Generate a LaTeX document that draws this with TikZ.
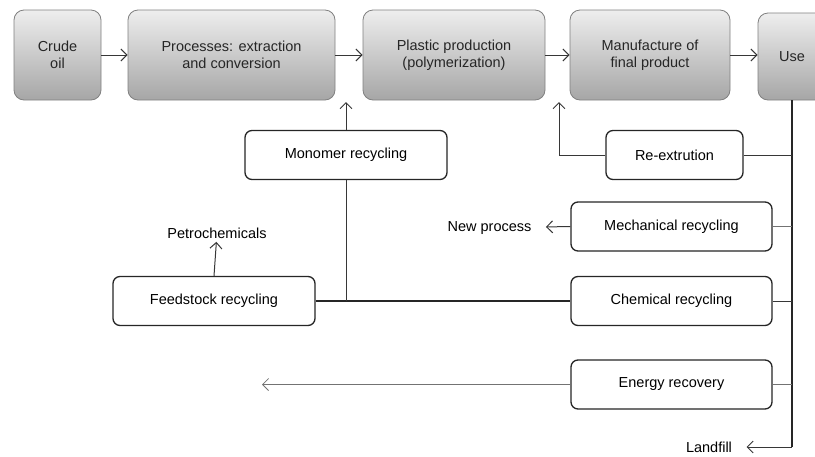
\documentclass[tikz,border=0pt]{standalone}
\usepackage{fontspec}
\setmainfont{Liberation Sans}
\usetikzlibrary{arrows.meta}

\definecolor{shadetop}{RGB}{238,238,238}
\definecolor{shadebot}{RGB}{166,166,166}
\definecolor{rimgray}{RGB}{128,128,128}
\definecolor{linegray}{RGB}{55,55,55}

\begin{document}
\begin{tikzpicture}[x=1pt, y=-1pt,
    font=\fontsize{14.5}{17}\selectfont,
    stage/.style={draw=rimgray, line width=0.8pt, rounded corners=10pt,
        top color=shadetop, bottom color=shadebot, align=center,
        inner sep=0pt, minimum height=90pt, text=black!85},
    recbox/.style={draw=black!85, line width=1.3pt, rounded corners=7pt,
        fill=white, minimum height=49pt, inner sep=0pt},
    link/.style={draw=linegray, line width=1pt},
    flow/.style={link, -{Straight Barb[length=6pt,width=12pt]}},
    trunk/.style={draw=black!85, line width=1.8pt}]

    % frame
    \useasboundingbox (0,0) rectangle (815,456);
    \clip (0,0) rectangle (815,456);

    % production chain
    \node[stage, minimum width=87pt] (crude) at (57.5,55) {Crude\\oil};
    \node[stage, minimum width=207pt] (proc) at (231.5,55) {Processes: extraction\\and conversion};
    \node[stage, minimum width=182pt] (plast) at (454,55) {Plastic production\\(polymerization)};
    \node[stage, minimum width=160pt] (manuf) at (650,55) {Manufacture of\\final product};
    \node[stage, minimum width=68pt, minimum height=87pt] (use) at (792,56.5) {Use};

    \draw[flow] (crude) -- (proc);
    \draw[flow] (proc) -- (plast);
    \draw[flow] (plast) -- (manuf);
    \draw[flow] (manuf.east) -- (manuf.east -| use.west);

    % recycling routes
    \node[recbox, minimum width=202pt] (mono) at (346,155) {Monomer recycling};
    \node[recbox, minimum width=137pt] (reext) at (674.5,155) {Re-extrution};
    \node[recbox, minimum width=201pt] (mech) at (671.5,226.5) {Mechanical recycling};
    \node[recbox, minimum width=202pt] (feed) at (214,301) {Feedstock recycling};
    \node[recbox, minimum width=201pt] (chem) at (671.5,301) {Chemical recycling};
    \node[recbox, minimum width=201pt] (energy) at (671.5,384.5) {Energy recovery};

    % outputs
    \node (petro) at (217,233) {Petrochemicals};
    \node (newproc) at (489.5,228) {New process};
    \node (landfill) at (709,447) {Landfill};
    \coordinate (monoend) at (346,102);
    \coordinate (reextend) at (559,102);
    \coordinate (energyend) at (262,384.5);
    \coordinate (bottom) at (792,447);

    % trunk from use
    \draw[trunk] (use.south) -- (bottom);
    \draw[flow, shorten >=11pt] (bottom) -- (landfill);
    \draw[link] (reext.east) -- (reext.east -| use.south);
    \draw[link, draw=linegray!70] (mech.east) -- (mech.east -| use.south);
    \draw[link] (chem.east) -- (chem.east -| use.south);
    \draw[link, draw=linegray!70] (energy.east) -- (energy.east -| use.south);

    % back into the chain
    \draw[flow] (reext.west) -| (reextend);
    \draw[flow] (mono.north) -- (monoend);
    \draw[trunk] (feed.east) -- (chem.west);
    \draw[link] (mono.south) -- (mono.south |- feed.east);
    \draw[flow] (feed.north) -- (petro);
    \draw[flow, shorten >=11pt] (mech.west) -- (newproc);
    \draw[flow, draw=linegray!70, line width=0.8pt] (energy.west) -- (energyend);

\end{tikzpicture}
\end{document}
